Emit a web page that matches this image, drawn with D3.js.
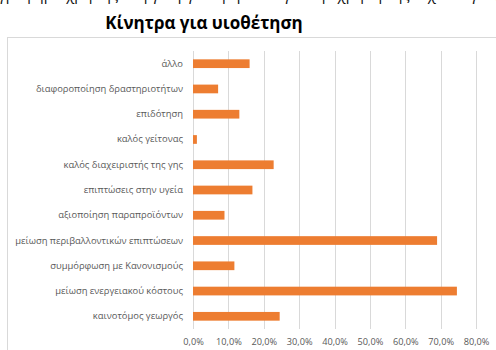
<!DOCTYPE html>
<html>
<head>
<meta charset="utf-8">
<script src="https://cdn.jsdelivr.net/npm/d3@7"></script>
<style>
  body { margin: 0; background: #fff; }
  svg { display: block; }
</style>
</head>
<body>
<div id="chart"></div>
<script>
// Chart size
const width = 496;
const height = 350;
const margin = {left: 193, right: 20, top: 51, bottom: 21};

// Categories, top to bottom
const categories = [
  "άλλο",
  "διαφοροποίηση δραστηριοτήτων",
  "επιδότηση",
  "καλός γείτονας",
  "καλός διαχειριστής της γης",
  "επιπτώσεις στην υγεία",
  "αξιοποίηση παραπροϊόντων",
  "μείωση περιβαλλοντικών επιπτώσεων",
  "συμμόρφωση με Κανονισμούς",
  "μείωση ενεργειακού κόστους",
  "καινοτόμος γεωργός"
];

// Share of answers per category (%)
const shares = [16.0, 7.1, 13.1, 1.1, 22.8, 16.8, 8.9, 69.0, 11.7, 74.6, 24.5];

// Axis ticks (%)
const xTicks = [0, 10, 20, 30, 40, 50, 60, 70, 80];

const svg = d3.select("#chart")
  .append("svg")
  .attr("width", width)
  .attr("height", height);

// line of the surrounding document text, cut at the top edge
svg.append("text")
  .attr("x", -2)
  .attr("y", 0)
  .attr("font-family", "'Open Sans', sans-serif")
  .attr("font-size", 15)
  .attr("fill", "#111")
  .text("γράφημα χρήσης στη γεωργία· η έρευνα για την χρήση της τεχνολογίας στη γεωργία για τη γη");

// chart frame
svg.append("rect")
  .attr("x", 7.5)
  .attr("y", 37.5)
  .attr("width", width)
  .attr("height", height)
  .attr("fill", "none")
  .attr("stroke", "#d9d9d9")
  .attr("stroke-width", 1);

// title
svg.append("text")
  .attr("x", 204)
  .attr("y", 29)
  .attr("text-anchor", "middle")
  .attr("font-family", "'Open Sans', sans-serif")
  .attr("font-weight", "bold")
  .attr("font-size", 17)
  .attr("fill", "#000")
  .text("Κίνητρα για υιοθέτηση");

const xScale = d3.scaleLinear()
  .domain([0, 80])
  .range([margin.left, 476]);

const yScale = d3.scaleBand()
  .domain(categories)
  .range([margin.top, height - margin.bottom])
  .paddingInner(0.655)
  .paddingOuter(0.33);

// vertical gridlines
svg.append("g")
  .selectAll("line")
  .data(xTicks)
  .enter()
  .append("line")
    .attr("x1", d => Math.round(xScale(d)) + 0.5)
    .attr("x2", d => Math.round(xScale(d)) + 0.5)
    .attr("y1", margin.top)
    .attr("y2", height - margin.bottom)
    .attr("stroke", "#d9d9d9")
    .attr("stroke-width", 1);

// bottom axis labels
const xAxis = svg.append("g")
  .attr("transform", `translate(0,${height - margin.bottom})`)
  .call(d3.axisBottom(xScale)
    .tickValues(xTicks)
    .tickSize(0)
    .tickPadding(9)
    .tickFormat(d => d.toFixed(1).replace(".", ",") + "%"));
xAxis.select(".domain").remove();
xAxis.selectAll("text")
  .attr("font-family", "'Open Sans', sans-serif")
  .attr("font-size", 9.2)
  .attr("fill", "#595959");

// left axis labels
const yAxis = svg.append("g")
  .attr("transform", `translate(${margin.left},0)`)
  .call(d3.axisLeft(yScale).tickSize(0).tickPadding(10));
yAxis.select(".domain").remove();
yAxis.selectAll("text")
  .attr("font-family", "'Open Sans', sans-serif")
  .attr("font-size", 9.4)
  .attr("fill", "#595959");

// bars
svg.selectAll(".bar")
  .data(categories)
  .enter()
  .append("rect")
    .attr("class", "bar")
    .attr("x", xScale(0))
    .attr("y", d => yScale(d))
    .attr("width", (d, i) => xScale(shares[i]) - xScale(0))
    .attr("height", yScale.bandwidth())
    .attr("fill", "#ed7d31");
</script>
</body>
</html>
